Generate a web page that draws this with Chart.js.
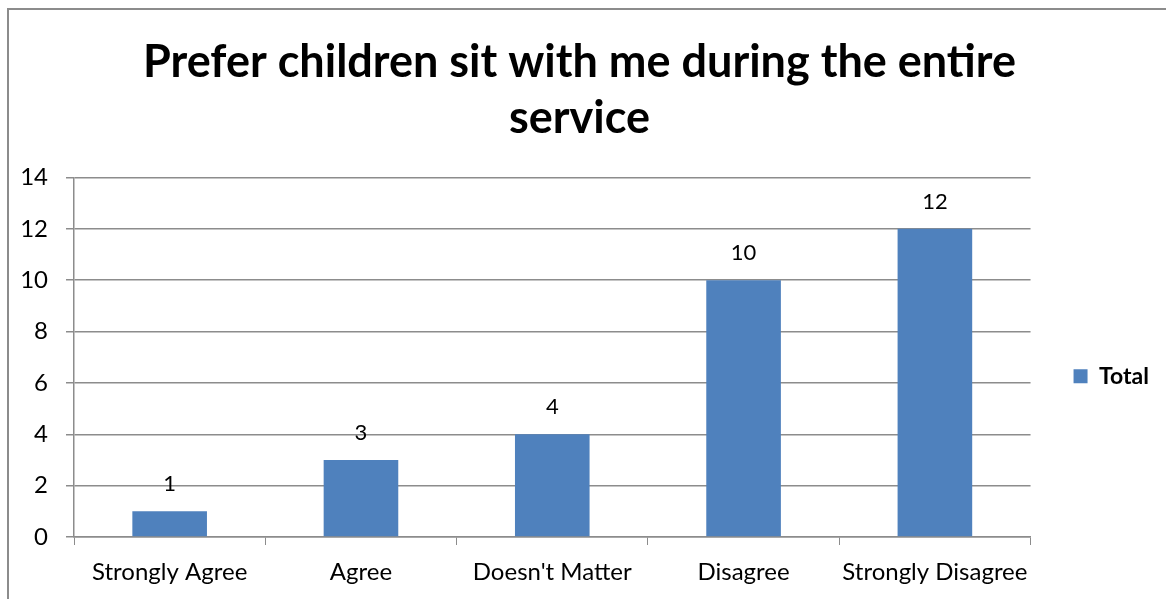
<!DOCTYPE html>
<html>
<head>
<meta charset="utf-8">
<script src="https://cdn.jsdelivr.net/npm/chart.js@4"></script>
<style>
  html, body { margin: 0; padding: 0; background: #fff; }
  #wrap { position: relative; width: 1166px; height: 599px; overflow: hidden; }
  #frame { position: absolute; left: 7px; top: 8px; width: 1200px; height: 700px; border: 2px solid #8c8c8c; box-sizing: border-box; }
  canvas { position: absolute; left: 0; top: 0; }
</style>
</head>
<body>
<div id="wrap">
  <div id="frame"></div>
  <canvas id="myChart" width="1166" height="599"></canvas>
</div>
<script>
const categories = ['Strongly Agree', 'Agree', "Doesn't Matter", 'Disagree', 'Strongly Disagree'];
const totals = [1, 3, 4, 10, 12];
const yTicks = [0, 2, 4, 6, 8, 10, 12, 14];
const seriesName = 'Total';
const titleLines = ['Prefer children sit with me during the entire', 'service'];

const barColor = '#4f81bd';
const labelFont = 'Lato, "Open Sans", sans-serif';

// value labels above bars
const valueLabels = {
    id: 'valueLabels',
    afterDatasetsDraw(chart) {
        const ctx = chart.ctx;
        const meta = chart.getDatasetMeta(0);
        ctx.save();
        ctx.font = '22px ' + labelFont;
        ctx.fillStyle = '#000';
        ctx.textAlign = 'center';
        ctx.textBaseline = 'middle';
        meta.data.forEach((bar, i) => {
            ctx.fillText(String(totals[i]), bar.x, bar.y - 27);
        });
        ctx.restore();
    }
};

const ctx = document.getElementById('myChart').getContext('2d');
new Chart(ctx, {
    type: 'bar',
    data: {
        labels: categories,
        datasets: [{
            label: seriesName,
            data: totals,
            backgroundColor: barColor,
            borderWidth: 0,
            barPercentage: 0.39,
            categoryPercentage: 1.0
        }]
    },
    options: {
        responsive: false,
        animation: false,
        devicePixelRatio: 1,
        layout: {
            padding: { left: 0, right: 7, top: 0, bottom: 0 }
        },
        plugins: {
            legend: {
                display: true,
                position: 'right',
                fullSize: false,
                // blank title only pushes the entry down a little
                title: {
                    display: true,
                    text: ' ',
                    font: { size: 20 },
                    padding: { top: 0, bottom: 14 }
                },
                labels: {
                    boxWidth: 14,
                    boxHeight: 14,
                    padding: 43,
                    color: '#000',
                    font: { family: labelFont, size: 23, weight: 'bold' }
                }
            },
            tooltip: { enabled: false },
            title: {
                display: true,
                text: titleLines,
                color: '#000',
                font: { family: labelFont, size: 45, weight: 'bold', lineHeight: 1.25 },
                padding: { top: 34, bottom: 31 }
            }
        },
        scales: {
            x: {
                offset: true,
                grid: {
                    offset: true,
                    drawOnChartArea: false,
                    drawTicks: true,
                    tickLength: 8,
                    color: '#8c8c8c'
                },
                border: { color: '#8c8c8c', width: 1.5 },
                ticks: {
                    color: '#000',
                    font: { family: labelFont, size: 24 },
                    padding: 13,
                    maxRotation: 0,
                    autoSkip: false
                },
                afterFit: scale => { scale.height = 62; }
            },
            y: {
                min: 0,
                max: 14,
                afterBuildTicks: scale => {
                    scale.ticks = yTicks.map(v => ({ value: v }));
                },
                grid: {
                    color: '#8c8c8c',
                    lineWidth: 1.5,
                    tickLength: 8,
                    drawTicks: true
                },
                border: { color: '#8c8c8c', width: 1.5 },
                ticks: {
                    color: '#000',
                    font: { family: labelFont, size: 24 },
                    padding: 18
                },
                afterFit: scale => { scale.width = 74; }
            }
        }
    },
    plugins: [valueLabels]
});
</script>
</body>
</html>
